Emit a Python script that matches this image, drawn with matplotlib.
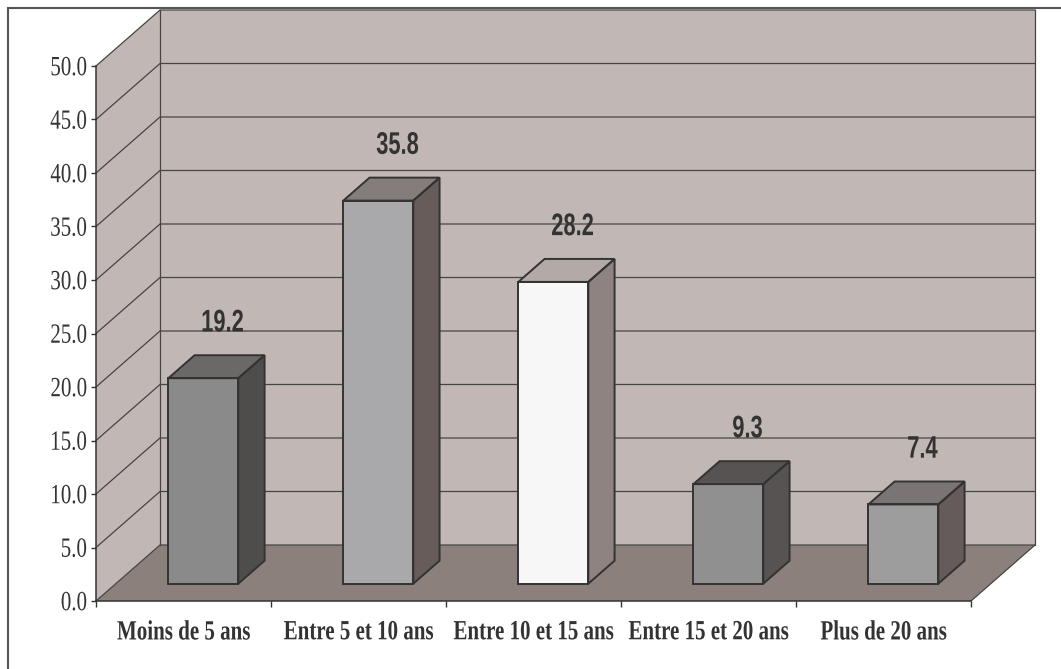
import numpy as np
import matplotlib
matplotlib.use("Agg")
import matplotlib.pyplot as plt
from matplotlib.patches import Polygon, Rectangle
from matplotlib.patheffects import AbstractPathEffect
from matplotlib.transforms import Affine2D

# ---------------- data ----------------
categories = ["Moins de 5 ans", "Entre 5 et 10 ans", "Entre 10 et 15 ans",
              "Entre 15 et 20 ans", "Plus de 20 ans"]
values = [19.2, 35.8, 28.2, 9.3, 7.4]
y_ticks = [0, 5, 10, 15, 20, 25, 30, 35, 40, 45, 50]

# ---------------- style ----------------
front_colors = ["#8a8a8a", "#a9a9ab", "#f7f7f7", "#a4a4a4", "#9d9d9d"]
side_colors = ["#4f4c4c", "#675c5a", "#8e8380", "#615c5c", "#655b5a"]
top_colors = ["#6b6868", "#857d7b", "#b3aaa8", "#7c7777", "#7a7474"]
hatch_front = [None, None, None, "#909090", None]
hatch_side = [None, None, None, "#585353", None]
WALL = "#c1b8b5"
FLOOR = "#8c807d"
GRID = "#454545"
EDGE = "#333333"
TEXT = "#333333"

DX = 64 / 175.0      # depth offset in category units
DY = 56 / 10.7       # depth offset in value units
BAR_W = 0.40
F0, F1 = 0.31, 0.72  # bar depth (fraction of full depth)
LABEL_DEPTH = 0.61
LABEL_PAD = 2.8

plt.rcParams["hatch.linewidth"] = 0.6


class Stretch(AbstractPathEffect):
    """Stretch glyphs vertically (text stays a Text artist)."""
    def __init__(self, sy, anchor="baseline"):
        super().__init__()
        self.sy = sy
        self.anchor = anchor

    def draw_path(self, renderer, gc, tpath, affine, rgbFace=None):
        ext = tpath.get_extents()
        if self.anchor == "top":
            a = ext.y1
        elif self.anchor == "center":
            a = 0.5 * (ext.y0 + ext.y1)
        else:
            a = 0.0
        t = Affine2D().translate(0, -a).scale(1, self.sy).translate(0, a) + affine
        renderer.draw_path(gc, tpath, t, rgbFace)


def proj(x, v, d):
    return (x + d * DX, v + d * DY)


W, H = 1061, 669
fig = plt.figure(figsize=(W / 100, H / 100), dpi=100)
fig.patch.set_facecolor("white")

ax = fig.add_axes([96 / W, (H - 601) / H, 875 / W, 535 / H])
n = len(categories)
vmax = y_ticks[-1]
ax.set_xlim(0, n)
ax.set_ylim(0, vmax)
ax.patch.set_visible(False)

# walls and floor
back = Polygon([proj(0, 0, 1), proj(n, 0, 1), proj(n, vmax, 1), proj(0, vmax, 1)],
               closed=True, facecolor=WALL, edgecolor="none", clip_on=False, zorder=0.5)
left = Polygon([proj(0, 0, 0), proj(0, 0, 1), proj(0, vmax, 1), proj(0, vmax, 0)],
               closed=True, facecolor=WALL, edgecolor="none", clip_on=False, zorder=0.5)
floor = Polygon([proj(0, 0, 0), proj(n, 0, 0), proj(n, 0, 1), proj(0, 0, 1)],
                closed=True, facecolor=FLOOR, edgecolor="none", clip_on=False, zorder=0.6)
for p in (back, left, floor):
    ax.add_patch(p)

# gridlines
for v in y_ticks:
    xa, ya = proj(0, v, 0)
    xb, yb = proj(0, v, 1)
    xc, yc = proj(n, v, 1)
    ax.plot([xa, xb, xc], [ya, yb, yc], color=GRID, lw=0.9, clip_on=False,
            zorder=0.8, solid_joinstyle="miter")
for x in (0, n):
    xa, ya = proj(x, 0, 1)
    xb, yb = proj(x, vmax, 1)
    ax.plot([xa, xb], [ya, yb], color=GRID, lw=0.9, clip_on=False, zorder=0.8)
xa, ya = proj(n, 0, 0)
xb, yb = proj(n, 0, 1)
ax.plot([xa, xb], [ya, yb], color=GRID, lw=0.9, clip_on=False, zorder=0.8)

# bars
for i, v in enumerate(values):
    c = i + 0.5
    x0, x1 = c - BAR_W / 2, c + BAR_W / 2
    front = [proj(x0, 0, F0), proj(x1, 0, F0), proj(x1, v, F0), proj(x0, v, F0)]
    top = [proj(x0, v, F0), proj(x1, v, F0), proj(x1, v, F1), proj(x0, v, F1)]
    side = [proj(x1, 0, F0), proj(x1, 0, F1), proj(x1, v, F1), proj(x1, v, F0)]
    faces = ((side, side_colors[i], hatch_side[i]),
             (top, top_colors[i], hatch_side[i]),
             (front, front_colors[i], hatch_front[i]))
    for pts, col, hcol in faces:
        ax.add_patch(Polygon(pts, closed=True, facecolor=col, edgecolor="none",
                             clip_on=False, zorder=3))
        if hcol is not None:
            ax.add_patch(Polygon(pts, closed=True, facecolor="none", edgecolor=hcol,
                                 lw=0, hatch="|" * 25, clip_on=False, zorder=3.1))
        ax.add_patch(Polygon(pts, closed=True, facecolor="none", edgecolor=EDGE,
                             lw=1.4, joinstyle="miter", clip_on=False, zorder=3.2))
    lx, ly = proj(c, v + LABEL_PAD, LABEL_DEPTH)
    ax.text(lx, ly, f"{v:.1f}", ha="center", va="baseline", fontsize=15.75,
            fontweight="bold", family="Liberation Sans", color=TEXT,
            path_effects=[Stretch(1 / 0.70, "baseline")], zorder=4, clip_on=False)

# axes: spines and ticks
for s in ("top", "right"):
    ax.spines[s].set_visible(False)
for s in ("left", "bottom"):
    ax.spines[s].set_color(EDGE)
    ax.spines[s].set_linewidth(1.1)
    ax.spines[s].set_zorder(2)

ax.set_yticks(y_ticks)
ax.set_yticklabels([f"{t:.1f}" for t in y_ticks])
ax.tick_params(axis="y", direction="out", length=3.6, width=1.0, color=EDGE, pad=3,
               labelsize=15.1, labelcolor=TEXT)
for lab in ax.get_yticklabels():
    lab.set_family("Liberation Serif")
    lab.set_path_effects([Stretch(1 / 0.755, "center")])

ax.set_xticks(np.arange(0, n + 1))
ax.set_xticklabels([])
ax.set_xticks(np.arange(n) + 0.5, minor=True)
ax.set_xticklabels(categories, minor=True)
ax.tick_params(axis="x", which="major", direction="out", length=4.3, width=1.0, color=EDGE)
ax.tick_params(axis="x", which="minor", length=0, pad=13.5, labelsize=15.1, labelcolor=TEXT)
for lab in ax.get_xticklabels(minor=True):
    lab.set_family("Liberation Serif")
    lab.set_fontweight("bold")
    lab.set_path_effects([Stretch(1 / 0.755, "top")])

# outer frame (cropped at right/bottom as in the reference)
fig.patches.append(Rectangle((8 / W, -0.2), 1.2, 1 - 8 / H + 0.2, fill=False,
                             edgecolor="#555555", lw=1.5, transform=fig.transFigure,
                             figure=fig))

fig.savefig("out.png", dpi=100)
